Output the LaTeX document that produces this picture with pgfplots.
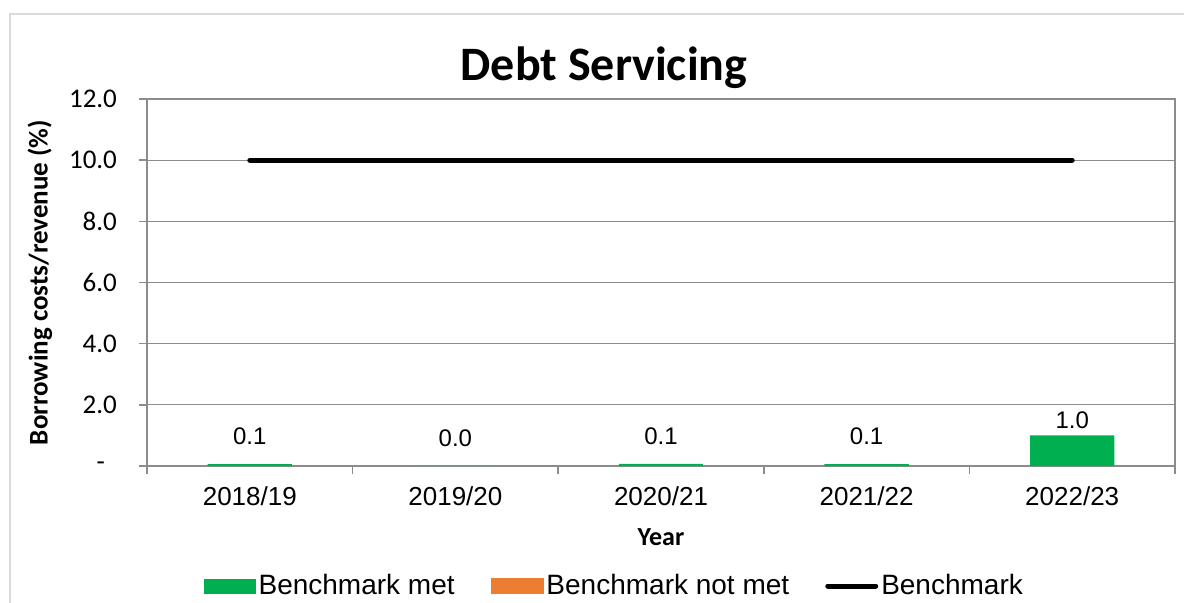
\documentclass[border=0pt]{standalone}
\usepackage{pgfplots}
\pgfplotsset{compat=1.18}
\usepackage{fontspec}
\setmainfont{Liberation Sans}
\newfontfamily\calibri{Carlito}
\definecolor{met}{HTML}{00B050}
\definecolor{notmet}{HTML}{ED7D31}
\definecolor{gridc}{HTML}{8C8C8C}
\begin{document}
\begin{tikzpicture}
\useasboundingbox (-73.5pt,-68pt) rectangle (518.5pt,233pt);
\draw[color=black!15, line width=1pt] (-68.5pt,-90pt) -- (-68.5pt,226pt) -- (540pt,226pt);
\begin{axis}[
  at={(0,0)}, anchor=south west,
  scale only axis, width=514pt, height=183.5pt,
  xmin=-0.5, xmax=4.5, ymin=0, ymax=12,
  xtick={0,1,2,3,4},
  xticklabels={2018/19,2019/20,2020/21,2021/22,2022/23},
  major x tick style={draw=none},
  minor xtick={-0.5,0.5,1.5,2.5,3.5,4.5},
  ytick={0,2,4,6,8,10,12},
  yticklabels={-\hspace*{6pt},2.0,4.0,6.0,8.0,10.0,12.0},
  xtick pos=bottom, ytick pos=left,
  tick align=outside,
  major tick length=4pt, minor tick length=4pt,
  ymajorgrids,
  grid style={gridc, line width=0.6pt},
  axis line style={gridc, line width=0.8pt},
  tick style={gridc, line width=0.8pt},
  yticklabel style={font=\calibri\fontsize{13.5}{15}\selectfont, xshift=-7.5pt},
  xticklabel style={font=\fontsize{13}{15}\selectfont, yshift=-3pt},
  xlabel={Year},
  xlabel style={font=\calibri\bfseries\fontsize{13}{15}\selectfont, at={(axis description cs:0.5,-0.1935)}, anchor=center},
  ylabel={Borrowing costs/revenue (\%)},
  ylabel style={font=\calibri\bfseries\fontsize{13.5}{15}\selectfont, at={(axis description cs:-0.1041,0.5)}, anchor=center},
  title={Debt Servicing},
  title style={font=\calibri\bfseries\fontsize{24}{28}\selectfont, at={(axis description cs:0.4446,1)}, anchor=center, yshift=9.5pt},
  legend columns=3,
  legend style={at={(axis description cs:0.455,-0.327)}, anchor=center, draw=none, fill=none,
    font=\fontsize{14}{16}\selectfont,
    nodes={inner sep=1.5pt},
    /tikz/every even column/.append style={column sep=16.5pt}},
  legend cell align=left,
]
\addplot[ybar, bar width=0.41, fill=met, draw=none,
  nodes near coords,
  point meta=y,
  visualization depends on={y \as \rawy},
  nodes near coords style={font=\fontsize{12}{14}\selectfont, text=black, anchor=center,
    yshift={ifthenelse(\rawy<0.5,14,7.5)*1pt},
    /pgf/number format/.cd, fixed, fixed zerofill, precision=1, assume math mode=true},
  legend image code/.code={\fill[met] (0pt,-3.75pt) rectangle (26pt,3.75pt);}]
  coordinates {(0,0.06) (1,0) (2,0.07) (3,0.06) (4,1.0)};
\addlegendentry{Benchmark met}
\addlegendimage{legend image code/.code={\fill[notmet] (0pt,-3.75pt) rectangle (26pt,3.75pt);}}
\addlegendentry{Benchmark not met}
\addplot[black, line width=2.5pt, line cap=round, mark=none,
  legend image code/.code={\draw[black, line width=2.5pt, line cap=round] (1pt,0pt) -- (25pt,0pt);}]
  coordinates {(0,10) (4,10)};
\addlegendentry{Benchmark}
\end{axis}
\end{tikzpicture}
\end{document}
